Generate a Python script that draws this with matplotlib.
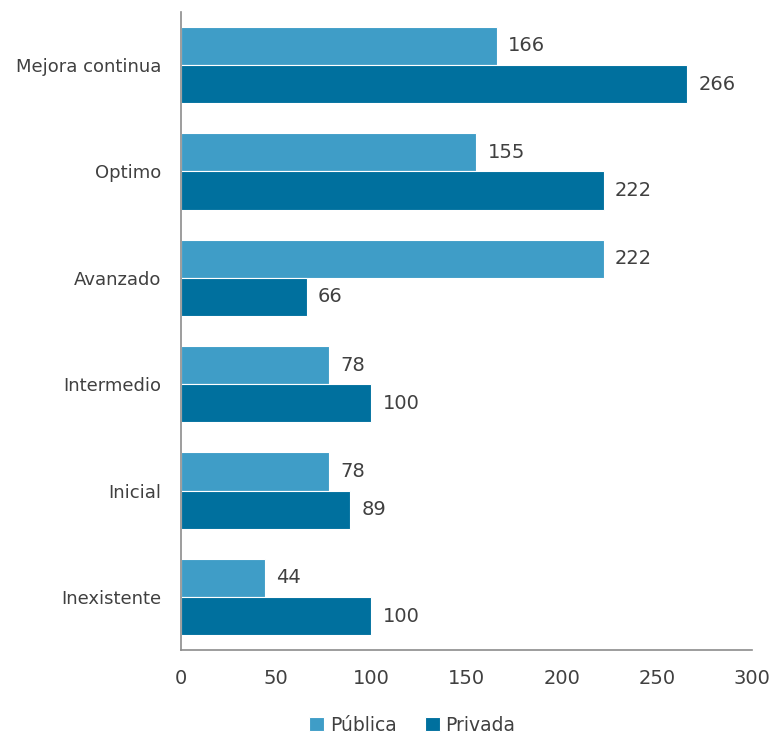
import numpy as np
import matplotlib.pyplot as plt

categorias = ['Mejora continua', 'Optimo', 'Avanzado', 'Intermedio', 'Inicial', 'Inexistente']
publica = [166, 155, 222, 78, 78, 44]
privada = [266, 222, 66, 100, 89, 100]
ticks_x = [0, 50, 100, 150, 200, 250, 300]

c_pub = '#3F9DC7'
c_priv = '#00709E'
gris = '#404040'

plt.rcParams['font.family'] = ['DejaVu Sans']

fig = plt.figure(figsize=(7.78, 7.34), dpi=100)
ax = fig.add_axes([0.2326, 0.1144, 0.7340, 0.8693])

y = np.arange(len(categorias))
h = 0.36
b1 = ax.barh(y - h / 2, publica, height=h, color=c_pub, edgecolor='white', linewidth=0.8, label='Pública')
b2 = ax.barh(y + h / 2, privada, height=h, color=c_priv, edgecolor='white', linewidth=0.8, label='Privada')

for barras in (b1, b2):
    for b in barras:
        ax.text(b.get_width() + 6, b.get_y() + b.get_height() / 2, str(int(b.get_width())),
                va='center', ha='left', fontsize=14, color=gris)

ax.set_xlim(0, 300)
ax.set_ylim(len(categorias) - 0.5, -0.5)
ax.set_xticks(ticks_x)
ax.set_yticks(y)
ax.set_yticklabels(categorias)
ax.tick_params(axis='both', length=0, labelsize=13, colors=gris)
ax.tick_params(axis='x', pad=14, labelsize=14)
ax.tick_params(axis='y', pad=14)
for s in ['top', 'right']:
    ax.spines[s].set_visible(False)
for s in ['left', 'bottom']:
    ax.spines[s].set_color('#8C8C8C')
    ax.spines[s].set_linewidth(1.2)

fig.legend(handles=[b1, b2], loc='center', bbox_to_anchor=(0.53, 0.012), ncol=2, frameon=False,
           fontsize=13.5, labelcolor=gris, handlelength=0.8, handleheight=0.8, handletextpad=0.3,
           columnspacing=1.5)

fig.savefig('out.png', dpi=100)
